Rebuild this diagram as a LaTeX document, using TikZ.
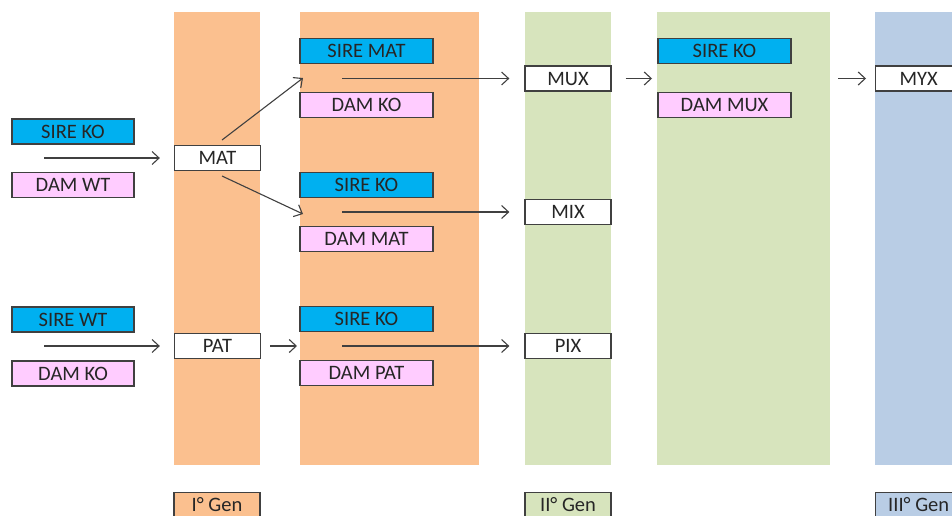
\documentclass[tikz,border=0pt]{standalone}
\usepackage{fontspec}
\setmainfont{Carlito}
\usetikzlibrary{arrows.meta}
\definecolor{colorange}{RGB}{251,192,143}
\definecolor{colgreen}{RGB}{215,228,189}
\definecolor{colblue}{RGB}{185,205,229}
\definecolor{sirecol}{RGB}{0,176,240}
\definecolor{damcol}{RGB}{255,204,255}
\definecolor{linecol}{RGB}{64,64,64}
\tikzset{
  box/.style={draw=linecol, line width=1.3pt, minimum height=25pt, inner sep=0pt,
    font=\fontsize{20.5}{22}\selectfont, text=black!85},
  sire/.style={box, fill=sirecol, minimum width=133pt},
  dam/.style={box, fill=damcol, minimum width=133pt},
  parent/.style={box, fill=sirecol, minimum width=122pt},
  mother/.style={box, fill=damcol, minimum width=122pt},
  geno/.style={box, fill=white, minimum width=86pt},
  genlabel/.style={draw=linecol, line width=1.3pt, minimum height=40pt, inner sep=0pt,
    font=\fontsize{20.5}{22}\selectfont, text=black!85, anchor=north},
  conn/.style={draw=linecol, line width=1.1pt, -{Straight Barb[length=7pt,width=13pt]}},
}
\begin{document}
\begin{tikzpicture}[x=1pt, y=-1pt]
\useasboundingbox (0,0) rectangle (952,515);
\clip (0,0) rectangle (952,515);
% generation columns
\fill[colorange] (174,12) rectangle (260,465);
\fill[colorange] (300,12) rectangle (479,465);
\fill[colgreen] (525,12) rectangle (611,465);
\fill[colgreen] (657,12) rectangle (830,465);
\fill[colblue] (875,12) rectangle (960,465);
% generation labels (running past the lower edge)
\node[genlabel, fill=colorange, minimum width=86pt] (g1) at (217,492) {};
\node[genlabel, fill=colgreen, minimum width=86pt] (g2) at (568,492) {};
\node[genlabel, fill=colblue, minimum width=86pt, anchor=north west] (g3) at (875,492) {};
\node[font=\fontsize{20.5}{22}\selectfont, text=black!85, anchor=base, inner sep=0pt] at (217,511) {I° Gen};
\node[font=\fontsize{20.5}{22}\selectfont, text=black!85, anchor=base, inner sep=0pt] at (568,511) {II° Gen};
\node[font=\fontsize{20.5}{22}\selectfont, text=black!85, anchor=base west, inner sep=0pt] at (888,511) {III° Gen};
% founders
\node[parent] (sko1) at (73,131.5) {SIRE KO};
\node[mother] (dwt) at (73,185) {DAM WT};
\node[parent] (swt) at (73,319.5) {SIRE WT};
\node[mother] (dko1) at (73,373.5) {DAM KO};
% first generation
\node[geno] (mat) at (217.5,158) {MAT};
\node[geno] (pat) at (217.5,346) {PAT};
% crosses of the first generation
\node[sire] (smat) at (366.5,51) {SIRE MAT};
\node[dam] (dko2) at (366.5,105) {DAM KO};
\node[sire] (sko2) at (366.5,185) {SIRE KO};
\node[dam] (dmat) at (366.5,239) {DAM MAT};
\node[sire] (sko3) at (366.5,319) {SIRE KO};
\node[dam] (dpat) at (366.5,373) {DAM PAT};
% second generation
\node[geno] (mux) at (568,78.5) {MUX};
\node[geno] (mix) at (568,212) {MIX};
\node[geno] (pix) at (568,346) {PIX};
% cross of the second generation
\node[sire] (sko4) at (724.5,51) {SIRE KO};
\node[dam] (dmux) at (724.5,105) {DAM MUX};
% third generation
\node[geno, anchor=west] (myx) at (875,78.5) {MYX};
% connector ends
\coordinate (c1) at (44,158);
\coordinate (c2) at (44,346);
\coordinate (m1) at (222,140);
\coordinate (m2) at (222,176);
\coordinate (t1) at (303,78);
\coordinate (t2) at (303,214);
\coordinate (p1) at (297,346);
\coordinate (x1) at (342,78.5);
\coordinate (x2) at (342,212);
\coordinate (x3) at (342,346);
\coordinate (u1) at (652,78.5);
\coordinate (y1) at (838,78.5);
% connectors
\draw[conn, shorten >=14pt] (c1) -- (mat.west);
\draw[conn, shorten >=14pt] (c2) -- (pat.west);
\draw[conn] (m1) -- (t1);
\draw[conn] (m2) -- (t2);
\draw[conn, shorten <=9pt] (pat.east) -- (p1);
\draw[conn, shorten >=15pt] (x1) -- (mux.west);
\draw[conn, shorten >=15pt] (x2) -- (mix.west);
\draw[conn, shorten >=15pt] (x3) -- (pix.west);
\draw[conn, shorten <=14pt] (mux.east) -- (u1);
\draw[conn, shorten >=9pt] (y1) -- (myx.west);
\end{tikzpicture}
\end{document}
